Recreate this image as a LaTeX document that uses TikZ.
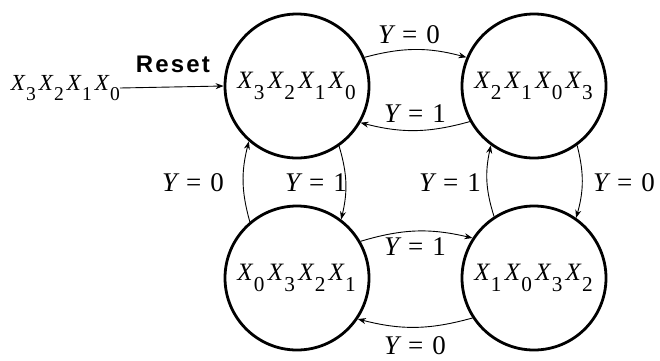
\documentclass[tikz,border=0pt]{standalone}
\usepackage{mathptmx}
\usepackage{fontspec}
\setmainfont{Liberation Serif}
\newfontfamily\resetfont[LetterSpace=9]{Liberation Sans}
\usetikzlibrary{arrows.meta}
\newcommand\Xn[1]{{\itshape X}\kern0.05em\raisebox{-0.42em}{\fontsize{0.85em}{1em}\selectfont #1}\kern0.13em}
\newcommand\Ylab[1]{{\itshape Y}\kern0.33em=\kern0.33em#1}
\begin{document}
\begin{tikzpicture}[x=1pt,y=1pt,
  state/.style={circle,draw,line width=2.8pt,minimum size=144pt,inner sep=0pt,font=\fontsize{25}{28}\selectfont},
  edge/.style={line width=0.9pt,-{Stealth[length=8pt,width=6pt]}},
  lab/.style={font=\fontsize{27}{28}\selectfont,inner sep=0pt}]
\useasboundingbox (0,0) rectangle (660,360);
\node[state] (A) at (297,274) {\kern0.1em\Xn{3}\Xn{2}\Xn{1}\Xn{0}};
\node[state] (B) at (534,274) {\kern0.1em\Xn{2}\Xn{1}\Xn{0}\Xn{3}};
\node[state] (C) at (297,82) {\kern0.1em\Xn{0}\Xn{3}\Xn{2}\Xn{1}};
\node[state] (D) at (534,82) {\kern0.1em\Xn{1}\Xn{0}\Xn{3}\Xn{2}};
\node[inner sep=0pt,font=\fontsize{23}{26}\selectfont,anchor=east] (in) at (120,272) {\Xn{3}\Xn{2}\Xn{1}\Xn{0}\kern-0.13em};
\node[inner sep=0pt,font=\fontsize{24}{26}\resetfont\bfseries] (reset) at (173,296) {Reset};
\draw[edge] (in.east) -- (A.west);
\draw[edge] (A.23) to[bend left=15] (B.157);
\draw[edge] (B.209) to[bend left=15] (A.330);
\draw[edge] (A.305) to[bend left=15] (C.53);
\draw[edge] (C.130) to[bend left=15] (A.229);
\draw[edge] (B.306) to[bend left=15] (D.55);
\draw[edge] (D.123) to[bend left=15] (B.234);
\draw[edge] (C.30) to[bend left=15] (D.147);
\draw[edge] (D.213) to[bend left=15] (C.326);
\node[lab] (l1) at (409,325) {\Ylab{0}};
\node[lab] (l2) at (415,246) {\Ylab{1}};
\node[lab] (l3) at (316,177) {\Ylab{1}};
\node[lab] (l4) at (193,177) {\Ylab{0}};
\node[lab] (l5) at (624,177) {\Ylab{0}};
\node[lab] (l6) at (450,177) {\Ylab{1}};
\node[lab] (l7) at (415,113) {\Ylab{1}};
\node[lab] (l8) at (415,14) {\Ylab{0}};
\end{tikzpicture}
\end{document}
